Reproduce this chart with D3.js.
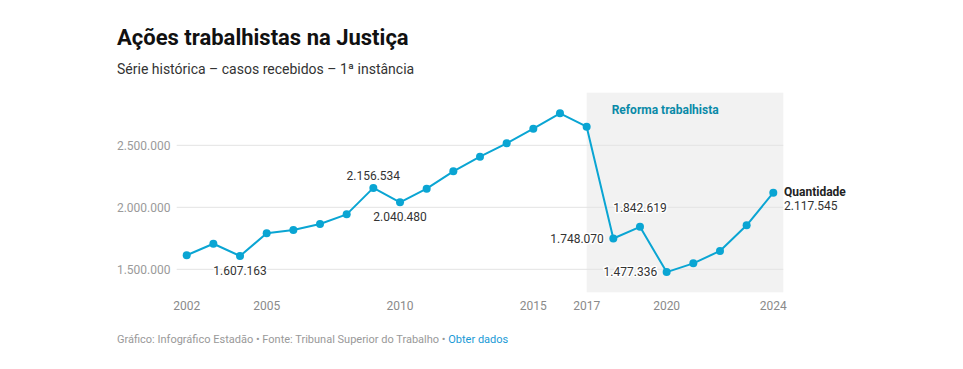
<!DOCTYPE html>
<html><head><meta charset="utf-8">
<script src="https://cdn.jsdelivr.net/npm/d3@7"></script>
<style>
body{margin:0;background:#fff;font-family:Roboto,"Noto Sans",sans-serif;}
svg text{font-family:Roboto,"Noto Sans",sans-serif;}
</style></head>
<body><svg id="c" width="963" height="369"></svg>
<script>
const years = [2002,2003,2004,2005,2006,2007,2008,2009,2010,2011,2012,2013,2014,2015,2016,2017,2018,2019,2020,2021,2022,2023,2024];
const values = [1613000,1706000,1607163,1790000,1817000,1865000,1943000,2156534,2040480,2150000,2290000,2408000,2516000,2634000,2758000,2650000,1748070,1842619,1477336,1548000,1648000,1855000,2117545];
const xTicks = [2002,2005,2010,2015,2017,2020,2024];
const yTicks = [1500000,2000000,2500000];
const shadeRange = [2017, 2024];
const shadeLabel = "Reforma trabalhista";
const annotations = [
  {year:2004, pos:"below"},
  {year:2009, pos:"above"},
  {year:2010, pos:"below"},
  {year:2018, pos:"left"},
  {year:2019, pos:"above"},
  {year:2020, pos:"left"}
];
const seriesName = "Quantidade";

const fmt = v => d3.format(",")(v).replace(/,/g, ".");
const svg = d3.select("#c");
const x = d3.scaleLinear().domain([2002, 2024]).range([186.7, 773.3]);
const y = d3.scaleLinear().domain([1500000, 2500000]).range([269.3, 145.3]);
const plotTop = 92.7, plotBottom = 292.3;

svg.append("text").attr("x",117).attr("y",45).attr("font-size",22).attr("font-weight",700).attr("fill","#111").text("Ações trabalhistas na Justiça");
svg.append("text").attr("x",117).attr("y",73.5).attr("font-size",14).attr("fill","#333").text("Série histórica – casos recebidos – 1ª instância");

// shaded area
svg.append("rect").attr("x", x(shadeRange[0])).attr("y", plotTop)
  .attr("width", x(shadeRange[1]) + 10 - x(shadeRange[0])).attr("height", plotBottom - plotTop).attr("fill","#f2f2f2");
svg.append("text").attr("x", x(shadeRange[0]) + 25).attr("y",113.5).attr("text-anchor","start")
  .attr("font-size",12).attr("font-weight",700).attr("fill","#0a8aa8").text(shadeLabel);

// grid
const gridG = svg.append("g");
yTicks.forEach(t=>{
  gridG.append("line").attr("x1",176.7).attr("x2",x(shadeRange[1])+10).attr("y1",y(t)).attr("y2",y(t)).attr("stroke","#e3e3e3").attr("stroke-width",1);
  gridG.append("text").attr("x",170.5).attr("y",y(t)+4.3).attr("text-anchor","end").attr("font-size",12).attr("fill","#9a9a9a").text(fmt(t));
});
xTicks.forEach(t=>{
  svg.append("text").attr("x",x(t)).attr("y",310).attr("text-anchor","middle").attr("font-size",12).attr("fill","#8a8a8a").text(t);
});

const data = years.map((yr,i)=>({yr, v:values[i]}));
const lineColor = "#0aa5d3";
svg.append("path").datum(data).attr("fill","none").attr("stroke",lineColor).attr("stroke-width",2)
  .attr("stroke-linejoin","round")
  .attr("d", d3.line().x(d=>x(d.yr)).y(d=>y(d.v)));
svg.append("g").selectAll("circle").data(data).join("circle")
  .attr("cx",d=>x(d.yr)).attr("cy",d=>y(d.v)).attr("r",4).attr("fill",lineColor);

// annotations
annotations.forEach(a=>{
  const v = values[years.indexOf(a.year)];
  const cx = x(a.year), cy = y(v);
  let tx = cx, ty = cy, anchor = "middle";
  if (a.pos==="below"){ ty = cy + 18.7; }
  else if (a.pos==="above"){ ty = cy - 7.5; if (a.year===2019) ty = cy - 14.5; }
  else if (a.pos==="left"){ tx = cx - 9.5; ty = cy + 4.3; anchor = "end"; }
  svg.append("text").attr("x",tx).attr("y",ty).attr("text-anchor",anchor).attr("font-size",12)
    .attr("fill","#333").attr("stroke","#fff").attr("stroke-width",3).attr("paint-order","stroke")
    .attr("stroke-linejoin","round").text(fmt(v));
});
// end label
const lastV = values[values.length-1], lastX = x(years[years.length-1]), lastY = y(lastV);
svg.append("text").attr("x",lastX+10.7).attr("y",lastY+3.2).attr("font-size",12).attr("font-weight",700).attr("fill","#222").text(seriesName);
svg.append("text").attr("x",lastX+10.7).attr("y",lastY+17.3).attr("font-size",12).attr("fill","#333").text(fmt(lastV));

// footer
const f = svg.append("text").attr("x",117).attr("y",342.5).attr("font-size",11).attr("fill","#999");
f.append("tspan").text("Gráfico: Infográfico Estadão • Fonte: Tribunal Superior do Trabalho • ");
f.append("tspan").attr("fill","#1a9ad6").text("Obter dados");
</script></body></html>
